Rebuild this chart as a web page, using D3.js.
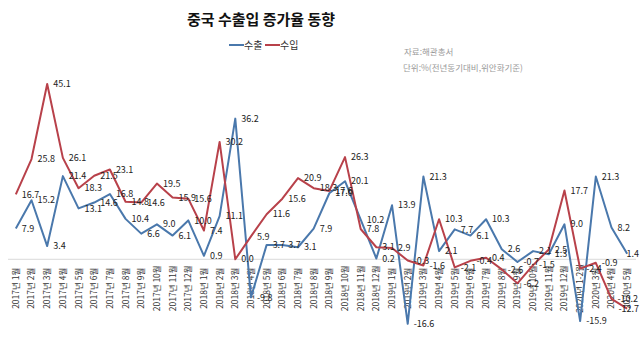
<!DOCTYPE html>
<html>
<head>
<meta charset="utf-8">
<script src="https://cdn.jsdelivr.net/npm/d3@7"></script>
<style>
  body { margin: 0; background: #fff; }
  svg { display: block; font-family: "Noto Sans CJK KR", "Noto Sans", sans-serif; }
</style>
</head>
<body>
<svg id="chart" width="640" height="354"></svg>
<script>
// months shown on the x axis
const months = [
  "2017년 1월","2017년 2월","2017년 3월","2017년 4월","2017년 5월","2017년 6월",
  "2017년 7월","2017년 8월","2017년 9월","2017년 10월","2017년 11월","2017년 12월",
  "2018년 1월","2018년 2월","2018년 3월","2018년 4월","2018년 5월","2018년 6월",
  "2018년 7월","2018년 8월","2018년 9월","2018년 10월","2018년 11월","2018년 12월",
  "2019년 1월","2019년 2월","2019년 3월","2019년 4월","2019년 5월","2019년 6월",
  "2019년 7월","2019년 8월","2019년 9월","2019년 10월","2019년 11월","2019년 12월",
  "2020년 1-2월","2020년 3월","2020년 4월","2020년 5월"
];

// 수출 (exports), % y/y
const exportsRate = [
  7.9, 15.2, 3.4, 21.4, 13.1, 14.6, 16.8, 10.4, 6.6, 9.0, 6.1, 10.0,
  0.9, 11.1, 36.2, -9.8, 3.7, 3.7, 3.1, 7.9, 17.0, 20.1, 10.2, 0.2,
  13.9, -16.6, 21.3, 2.1, 7.7, 6.1, 10.3, 2.6, -0.7, 2.1, 1.3, 9.0,
  -15.9, 21.3, 8.2, 1.4
];

// 수입 (imports), % y/y
const importsRate = [
  16.7, 25.8, 45.1, 26.1, 18.3, 21.5, 23.1, 14.8, 14.6, 19.5, 15.9, 15.6,
  7.4, 30.2, 0.0, 5.9, 11.6, 15.6, 20.9, 18.3, 17.6, 26.3, 7.8, 3.1,
  2.9, -0.3, -1.6, 10.3, -2.1, -0.4, 0.4, -2.6, -6.2, -1.5, 2.5, 17.7,
  -2.4, -0.9, -10.2, -12.7
];

const seriesNames = ["수출", "수입"];
const colours = { "수출": "#4a78ac", "수입": "#b8414a" };

const svg = d3.select("#chart");
const W = 640;

// scales
const x = d3.scaleBand()
  .domain(months)
  .range([8, 635]);

const y = d3.scaleLinear()
  .domain([-20, 50])
  .range([337, 65]);

const cx = (d) => x(d) + x.bandwidth() / 2;

// title
svg.append("text")
  .attr("x", 261)
  .attr("y", 25)
  .attr("text-anchor", "middle")
  .attr("font-size", 15)
  .attr("font-weight", "bold")
  .attr("fill", "#111")
  .text("중국 수출입 증가율 동향");

// legend
const legend = svg.append("g").attr("class", "legend");
seriesNames.forEach((name, i) => {
  const lx = 229 + i * 36;
  legend.append("line")
    .attr("x1", lx).attr("x2", lx + 15)
    .attr("y1", 45).attr("y2", 45)
    .attr("stroke", colours[name])
    .attr("stroke-width", 2);
  legend.append("text")
    .attr("x", lx + 15)
    .attr("y", 45)
    .attr("dy", "0.35em")
    .attr("font-size", 10)
    .attr("fill", "#333")
    .text(name);
});

// source / unit notes
svg.append("text")
  .attr("x", 404).attr("y", 55)
  .attr("font-size", 8.5)
  .attr("fill", "#999")
  .text("자료:해관총서");
svg.append("text")
  .attr("x", 403).attr("y", 71)
  .attr("font-size", 8.5)
  .attr("fill", "#999")
  .text("단위:%(전년동기대비,위안화기준)");

// zero line
svg.append("line")
  .attr("x1", 8).attr("x2", 636)
  .attr("y1", y(0)).attr("y2", y(0))
  .attr("stroke", "#d9d9d9")
  .attr("stroke-width", 1);

// x axis labels, rotated
const xAxis = svg.append("g")
  .attr("transform", `translate(0, ${y(0)})`)
  .call(d3.axisBottom(x).tickSize(0).tickPadding(0));
xAxis.select(".domain").remove();
xAxis.selectAll("text")
  .attr("font-family", "'Noto Sans CJK KR', sans-serif")
  .attr("font-size", 8.5)
  .attr("fill", "#333")
  .attr("text-anchor", "middle")
  .attr("dy", "0.35em")
  .attr("transform", "translate(0, 29) rotate(-90)");

// lines
const line = d3.line()
  .x((d, i) => cx(months[i]))
  .y((d) => y(d));

const series = [
  { name: "수출", values: exportsRate },
  { name: "수입", values: importsRate }
];

svg.append("g")
  .selectAll("path")
  .data(series)
  .enter().append("path")
  .attr("fill", "none")
  .attr("stroke", (d) => colours[d.name])
  .attr("stroke-width", 2)
  .attr("stroke-linejoin", "round")
  .attr("d", (d) => line(d.values));

// value labels, to the right of each point (kept inside the picture)
series.forEach((s) => {
  svg.append("g")
    .selectAll("text")
    .data(s.values)
    .enter().append("text")
    .attr("y", (d) => y(d))
    .attr("dy", "0.35em")
    .attr("font-size", 9)
    .attr("fill", "#222")
    .text((d) => d.toFixed(1))
    .attr("x", function (d, i) {
      const w = this.getComputedTextLength();
      return Math.min(cx(months[i]) + 6, W - w - 1);
    });
});
</script>
</body>
</html>
